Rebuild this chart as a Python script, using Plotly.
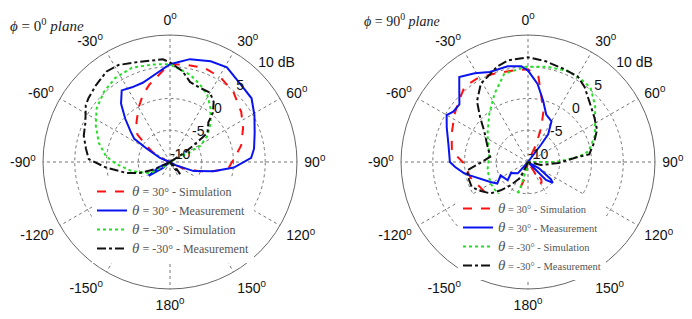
import plotly.graph_objects as go

# ---------------- data (theta clockwise from top, degrees; r in dB) ----------------
L_sim30_t = [-180, -150, -120, -90, -75, -65, -60, -55, -50, -45, -40, -30, -22, -15, -5, 0, 8, 20, 31, 42, 55, 65, 77, 87, 97, 103, 108, 115, 125, 150, 180]
L_sim30_r = [-10, -10, -10, -10, -9.5, -7.7, -6.8, -5.5, -3.3, -2.5, -1.8, -0.1, 1.4, 2.6, 4.3, 5.4, 5.5, 5.8, 5.5, 4.9, 3.7, 2.7, 1.5, 0.1, -0.8, -3.4, -5.4, -7.5, -9.5, -10, -10]

L_meas30_t = [-180, -140, -130, -123, -115, -100, -80, -68, -60, -57, -52, -46, -40, -34, -27, -19, -8, 0, 11, 22, 31, 43, 52, 61, 71, 81, 87, 95, 102, 111, 120, 150, 180]
L_meas30_r = [-10, -10, -8.5, -6, -8, -10, -10, -8.3, -5.8, -3.3, -2.1, -0.2, 2.0, 3.6, 3.2, 3.2, 4.2, 5.4, 6.5, 7.1, 7.4, 6.5, 6.3, 5.2, 4.1, 3.4, 2.8, 0.1, -3, -6, -9, -10, -10]

L_simm30_t = [-180, -150, -130, -119, -104, -92, -85, -75, -64, -54, -43, -33, -22, -10, 0, 13, 21, 29, 37, 46, 55, 62, 64, 66, 100, 130, 180]
L_simm30_r = [-10, -10, -9, -6.4, -3.9, -1.5, 0.1, 1.6, 3.0, 4.3, 5.2, 5.8, 6.0, 5.6, 5.4, 4.1, 3.1, 2.1, 0.6, -1.1, -2.8, -4.6, -7, -10, -10, -10, -10]

L_measm30_t = [-180, -150, -125, -115, -110, -104, -95, -88, -81, -73, -65, -56, -52, -44, -35, -28, -17, -4, 0, 8, 14, 22, 30, 36, 41, 44, 52, 53, 55, 57, 70, 125, 132, 140, 148, 180]
L_measm30_r = [-10, -10, -10, -7.3, -4.9, -2.9, 0.1, 2.8, 3.4, 4.2, 4.7, 6.0, 6.3, 6.8, 7.4, 7.3, 6.5, 6.2, 5.7, 4.4, 3.0, 2.6, 2.6, 1.7, 0.3, -1.3, -2.5, -3.6, -5.5, -7.5, -10, -10, -9, -7.5, -9, -10]

R_sim30_t = [-180, -169, -162, -152, -142, -133, -118, -105, -91, -82, -70, -57, -49, -40, -31, -21, -8, 0, 7, 10, 17, 21, 25, 30, 60, 120, 138, 143, 148, 153, 165, 180]
R_sim30_r = [-10, -7.5, -4.8, -3.1, -2.3, -1.8, -1.5, -0.6, 0.1, 2.1, 2.8, 3.8, 4.5, 5.5, 5.4, 4.9, 4.6, 4.6, 3.5, 1.4, -1.7, -4.2, -7, -10, -10, -10, -9, -6.5, -6, -10, -10, -10]

R_meas30_t = [-180, -160, -138, -123, -132, -116, -125, -118, -103, -100, -94, -90, -78, -67, -60, -56, -50, -45, -39, -31, -23, -12, -4, 0, 7, 14, 21, 30, 36, 37, 45, 120, 127, 130, 135, 140, 180]
R_meas30_r = [-10, -10, -7.6, -6.8, -5.7, -5.2, -4.1, -3.3, -0.6, 0.2, 1.5, 2.3, 2.8, 3.9, 4.8, 4.2, 4.1, 5.3, 7.2, 6.3, 5.4, 5.4, 5.1, 4.4, 2.4, -0.1, -2.0, -2.6, -4.6, -6.6, -10, -8, -5.5, -4.9, -6, -10, -10]

R_simm30_t = [-180, -166, -164, -160, -147, -136, -120, -101, -80, -56, -39, -26, -15, -1, 11, 23, 32, 40, 50, 59, 68, 80, 84, 87, 90, 95, 120, 180]
R_simm30_r = [-10, -8.7, -5.8, -4.0, -3.2, -3.1, -3.2, -3.5, -3.8, -2.3, -0.3, 2.0, 4.4, 5.0, 5.3, 5.6, 5.5, 5.3, 3.8, 2.3, 1.4, -0.3, -2, -4.1, -5.7, -10, -10, -10]

R_measm30_t = [-180, -155, -143, -136, -130, -121, -114, -107, -98, -91, -82, -67, -55, -47, -40, -31, -23, -18, -11, 0, 10, 21, 30, 37, 46, 56, 65, 74, 83, 84, 92, 103, 115, 180]
R_measm30_r = [-10, -7.3, -5.4, -3.8, -2.3, -1.2, -0.3, -0.3, -0.3, -2.5, -4.0, -3.0, -1.6, 0.3, 2.5, 4.4, 5.1, 5.8, 6.3, 6.5, 6.1, 5.7, 5.6, 4.8, 3.5, 2.6, 2.0, 0.8, -0.3, -2.0, -5.2, -7.9, -10, -10]

TH = "<span style='font-size:15px'><i>θ</i></span>"
series_names = [TH + " = 30° - Simulation", TH + " = 30° - Measurement",
                TH + " = -30° - Simulation", TH + " = -30° - Measurement"]
series_colors = ["#FF1010", "#0A14F0", "#22E022", "#111111"]
series_dash = ["dash", "solid", "dot", "dashdot"]

ang_vals = [0, 30, 60, 90, 120, 150, 180, 210, 240, 270, 300, 330]
ang_text = ["0<sup>0</sup>", "30<sup>0</sup>", "60<sup>0</sup>", "90<sup>0</sup>", "120<sup>0</sup>",
            "150<sup>0</sup>", "180<sup>0</sup>", "-150<sup>0</sup>", "-120<sup>0</sup>",
            "-90<sup>0</sup>", "-60<sup>0</sup>", "-30<sup>0</sup>"]
rad_vals = [-10, -5, 0, 5, 10]
rad_text = ["-10", "-5", "0", "5", "10 dB"]
rad_label_angle = 44
titles = ["<i>ϕ</i> = 0<sup>0</sup> <i>plane</i>", "<i>ϕ</i> = 90<sup>0</sup> <i>plane</i>"]

left = [(L_sim30_t, L_sim30_r), (L_meas30_t, L_meas30_r), (L_simm30_t, L_simm30_r), (L_measm30_t, L_measm30_r)]
right = [(R_sim30_t, R_sim30_r), (R_meas30_t, R_meas30_r), (R_simm30_t, R_simm30_r), (R_measm30_t, R_measm30_r)]

fig = go.Figure()
for sp, lg, group in (("polar", "legend", left), ("polar2", "legend2", right)):
    for i, (t, r) in enumerate(group):
        fig.add_trace(go.Scatterpolar(theta=t, r=r, mode="lines", name=series_names[i], subplot=sp,
                                      legend=lg, hoverinfo="skip",
                                      line=dict(color=series_colors[i], dash=series_dash[i], width=2)))
    # radial tick labels, placed along the label direction through the polar scale
    fig.add_trace(go.Scatterpolar(theta=[rad_label_angle] * len(rad_vals), r=rad_vals, text=rad_text,
                                  mode="text", textposition="top right", subplot=sp, showlegend=False,
                                  hoverinfo="skip", cliponaxis=False,
                                  textfont=dict(family="Liberation Sans", size=14, color="#111")))

W, H = 692, 319


def polar_layout(cx, cy, rad):
    return dict(
        domain=dict(x=[(cx - rad) / W, (cx + rad) / W], y=[1 - (cy + rad) / H, 1 - (cy - rad) / H]),
        bgcolor="white",
        angularaxis=dict(rotation=90, direction="clockwise", tickmode="array", tickvals=ang_vals,
                         ticktext=ang_text, showline=True, linecolor="#666", linewidth=1,
                         gridcolor="#777", griddash="dot", gridwidth=1, ticks="outside",
                         ticklen=4, tickcolor="rgba(0,0,0,0)",
                         tickfont=dict(family="Liberation Sans", size=14, color="#111")),
        radialaxis=dict(range=[-10, 10], tickmode="array", tickvals=rad_vals,
                        showticklabels=False, showline=False, ticks="",
                        gridcolor="#777", griddash="dot", gridwidth=1),
    )


fig.update_layout(
    width=W, height=H, margin=dict(l=0, r=0, t=0, b=0),
    paper_bgcolor="white", plot_bgcolor="white",
    polar=polar_layout(170, 162, 127),
    polar2=polar_layout(528, 162, 127),
    legend=dict(x=92 / W, y=1 - 177 / H, xanchor="left", yanchor="top", bgcolor="white",
                font=dict(family="Liberation Serif", size=12, color="#555"), tracegroupgap=0,
                itemwidth=30),
    legend2=dict(x=458 / W, y=1 - 194 / H, xanchor="left", yanchor="top", bgcolor="white",
                 font=dict(family="Liberation Serif", size=10.5, color="#555"), tracegroupgap=0,
                 itemwidth=30),
    annotations=[
        dict(text=titles[0], x=8 / W, y=1 - 25 / H, xref="paper", yref="paper", xanchor="left",
             yanchor="middle", showarrow=False, font=dict(family="Liberation Serif", size=15, color="#222")),
        dict(text=titles[1], x=362 / W, y=1 - 20 / H, xref="paper", yref="paper", xanchor="left",
             yanchor="middle", showarrow=False, font=dict(family="Liberation Serif", size=14, color="#222")),
    ],
)

fig.write_html("out.html", config={"displayModeBar": False},
               post_script="document.body.style.margin='0';document.body.style.overflow='hidden';")
